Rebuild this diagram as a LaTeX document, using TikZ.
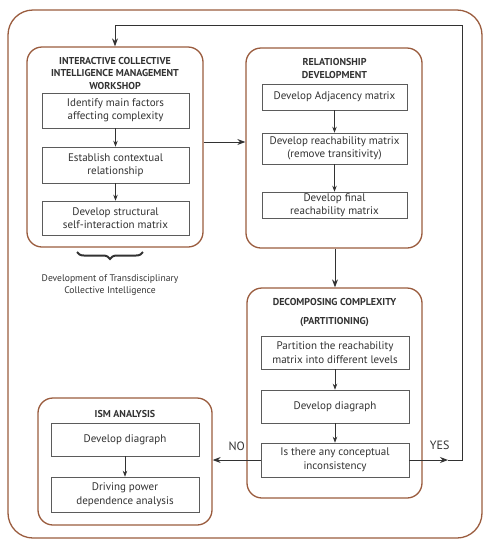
\documentclass[tikz,border=0pt]{standalone}
\usepackage{fontspec}
\setmainfont{PT Sans}
\usetikzlibrary{arrows.meta,decorations.pathreplacing}

\definecolor{frame}{RGB}{154,92,62}
\definecolor{ink}{RGB}{50,50,50}

\tikzset{
	group/.style={draw=frame, line width=1.3pt, rounded corners=15pt, inner sep=0pt},
	stage/.style={draw=ink!80, line width=0.6pt, fill=white, inner sep=1pt, align=center, font=\fontsize{11}{13.5}\selectfont, text=ink},
	head/.style={align=center, font=\bfseries\fontsize{10}{12.5}\selectfont, text=ink},
	link/.style={-{Stealth[length=6pt,width=4.5pt]}, line width=0.7pt, draw=ink},
	flow/.style={-{Stealth[length=8pt,width=6pt]}, line width=1pt, draw=ink}
}

\begin{document}
\begin{tikzpicture}[x=1pt,y=-1pt]
\useasboundingbox (0,0) rectangle (490,550);

% outer frame
\draw[frame, line width=1.3pt, rounded corners=25pt] (8,10) rectangle (482,538);

% groups
\node[group, minimum width=176pt, minimum height=200pt] (g1) at (115,147) {};
\node[group, minimum width=176pt, minimum height=200pt] (g2) at (334,148) {};
\node[group, minimum width=175pt, minimum height=210pt] (g3) at (334.5,393) {};
\node[group, minimum width=174pt, minimum height=127pt] (g4) at (125,461.5) {};

% titles
\node[head] (h1) at (115,73) {INTERACTIVE COLLECTIVE\\INTELLIGENCE MANAGEMENT\\WORKSHOP};
\node[head] (h2) at (334.5,68.5) {RELATIONSHIP\\DEVELOPMENT};
\node[head, font=\bfseries\fontsize{10}{19}\selectfont] (h3) at (334.5,312.5) {DECOMPOSING COMPLEXITY\\(PARTITIONING)};
\node[head] (h4) at (125,414) {ISM ANALYSIS};

% workshop
\node[stage, minimum width=147pt, minimum height=35pt] (a1) at (115.5,110.5) {Identify main factors\\affecting complexity};
\node[stage, minimum width=147pt, minimum height=36pt] (a2) at (115.5,165) {Establish contextual\\relationship};
\node[stage, minimum width=147pt, minimum height=34pt] (a3) at (115.5,218) {Develop structural\\self-interaction matrix};

% relationship development
\node[stage, minimum width=145pt, minimum height=26pt] (b1) at (334.5,97) {Develop Adjacency matrix};
\node[stage, minimum width=145pt, minimum height=31pt] (b2) at (334.5,148.5) {Develop reachability matrix\\(remove transitivity)};
\node[stage, minimum width=145pt, minimum height=26pt] (b3) at (334.5,205) {Develop final\\reachability matrix};

% decomposing complexity
\node[stage, minimum width=148pt, minimum height=33pt] (c1) at (335,352.5) {Partition the reachability\\matrix into different levels};
\node[stage, minimum width=148pt, minimum height=33pt] (c2) at (335,406.5) {Develop diagraph};
\node[stage, minimum width=148pt, minimum height=34pt] (c3) at (335,460) {Is there any conceptual\\inconsistency};

% ism analysis
\node[stage, minimum width=148pt, minimum height=33pt] (d1) at (125,439.5) {Develop diagraph};
\node[stage, minimum width=148pt, minimum height=35pt] (d2) at (125,494.5) {Driving power\\dependence analysis};

% inner links
\draw[link] (a1) -- (a2);
\draw[link] (a2) -- (a3);
\draw[link] (b1) -- (b2);
\draw[link] (b2) -- (b3);
\draw[link] (c1) -- (c2);
\draw[link] (c2) -- (c3);
\draw[link] (d1) -- (d2);

% main flow
\draw[flow] (g1.east |- 0,142) -- (g2.west |- 0,142);
\draw[flow] (g2.south -| 335,0) -- (g3.north -| 335,0);
\draw[flow] (c3.west) -- (g4.east |- c3.west) node[midway, above=6pt, font=\fontsize{12}{14}\selectfont, text=ink] (no) {NO};
\coordinate (yes) at (448,460);
\coordinate (turn) at (462,25);
\draw[flow] (c3.east) -- (yes) node[midway, above=7pt, xshift=11pt, font=\fontsize{12}{14}\selectfont, text=ink] (yeslabel) {YES};
\draw[flow] (yes) -- (turn |- yes) -- (turn) -| (g1.north);

% brace
\draw[decorate, decoration={brace, mirror, amplitude=7pt}, line width=2pt, ink] (77,252) -- (143,252);
\node[align=center, font=\fontsize{9.6}{12}\selectfont, text=ink] (note) at (110,285) {Development of Transdisciplinary\\Collective Intelligence};

\end{tikzpicture}
\end{document}
